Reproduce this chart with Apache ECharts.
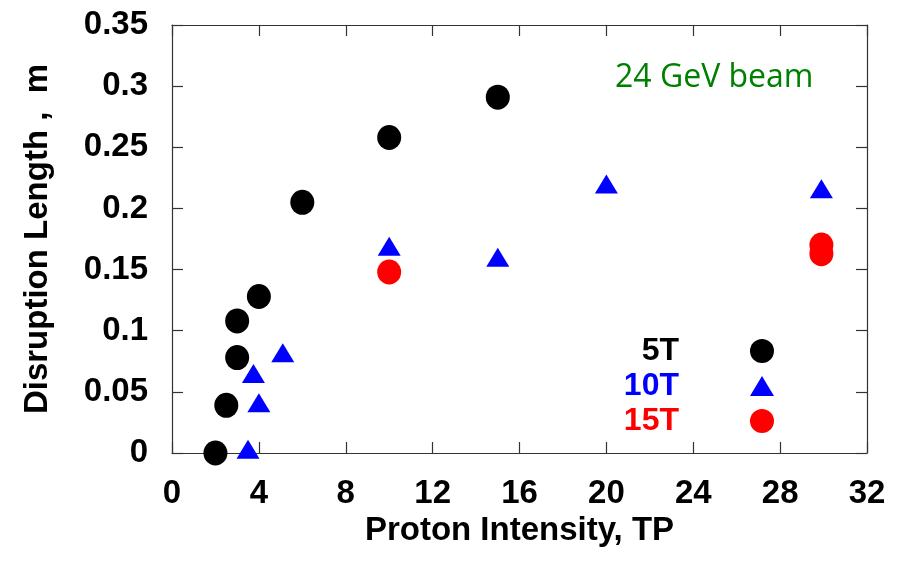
<!DOCTYPE html>
<html>
<head>
<meta charset="utf-8">
<script src="https://cdn.jsdelivr.net/npm/echarts@6/dist/echarts.min.js"></script>
<style>
  html, body { margin: 0; padding: 0; background: #fff; }
  #chart { width: 905px; height: 563px; }
</style>
</head>
<body>
<div id="chart"></div>
<script>
// ---- data ----
const seriesNames = ['5T', '10T', '15T'];
const t5X = [2.0, 2.5, 3.0, 3.0, 4.0, 6.0, 10.0, 15.0];
const t5Y = [0.0, 0.039, 0.078, 0.108, 0.128, 0.205, 0.258, 0.291];
const t10X = [3.5, 4.0, 3.75, 5.1, 10.0, 15.0, 20.0, 29.9];
const t10Y = [0.003, 0.041, 0.065, 0.082, 0.169, 0.160, 0.220, 0.216];
const t15X = [10.0, 29.9, 29.9];
const t15Y = [0.148, 0.163, 0.170];
const xTicks = { min: 0, max: 32, interval: 4 };
const yTicks = { min: 0, max: 0.35, interval: 0.05 };
const annotation = '24 GeV beam';
const xTitle = 'Proton Intensity, TP';
const yTitle = 'Disruption Length ,  m';

function pairs(xs, ys) { return xs.map((x, i) => [x, ys[i]]); }

const chart = echarts.init(document.getElementById('chart'), null, { renderer: 'canvas' });
const lineCol = '#333';
const axisFont = { fontFamily: 'Liberation Sans, Arial, sans-serif', fontWeight: 'bold', fontSize: 33, color: '#000' };
const triPath = 'path://M0,19 L11.5,0 L23,19 Z';

function baseAxis(extra) {
  return Object.assign({
    type: 'value',
    axisLine: { show: true, onZero: false, lineStyle: { color: lineCol, width: 1.2 } },
    axisTick: { show: true, inside: true, length: 11, lineStyle: { color: lineCol, width: 1.2 } },
    splitLine: { show: false }
  }, extra);
}

chart.setOption({
  animation: false,
  backgroundColor: '#fff',
  title: {
    text: annotation, left: 615, top: 62, padding: 0,
    textStyle: { fontFamily: 'Open Sans', fontWeight: 'normal', fontSize: 32, color: '#008000' }
  },
  grid: { left: 172, right: 38, top: 25, bottom: 110, show: false },
  legend: {
    orient: 'vertical', right: 131, top: 335, align: 'right', padding: 0,
    itemWidth: 24, itemHeight: 24, itemGap: 3,
    textStyle: { fontFamily: 'Liberation Sans, Arial, sans-serif', fontWeight: 'bold', fontSize: 32, lineHeight: 24, padding: [0, 66, 0, 0] },
    data: [
      { name: seriesNames[0], icon: 'circle', textStyle: { color: '#000' } },
      { name: seriesNames[1], icon: triPath, textStyle: { color: '#0000ff' } },
      { name: seriesNames[2], icon: 'circle', textStyle: { color: '#ff0000' } }
    ]
  },
  xAxis: [
    baseAxis(Object.assign({}, xTicks, {
      position: 'bottom',
      axisLabel: Object.assign({ margin: 24 }, axisFont),
      name: xTitle, nameLocation: 'middle', nameGap: 61,
      nameTextStyle: { fontFamily: 'Liberation Sans, Arial, sans-serif', fontWeight: 'bold', fontSize: 33, color: '#000' }
    })),
    baseAxis(Object.assign({}, xTicks, { position: 'top', axisLabel: { show: false } }))
  ],
  yAxis: [
    baseAxis(Object.assign({}, yTicks, {
      position: 'left',
      axisLabel: Object.assign({ margin: 24 }, axisFont),
      name: yTitle, nameLocation: 'middle', nameGap: 118,
      nameTextStyle: { fontFamily: 'Liberation Sans, Arial, sans-serif', fontWeight: 'bold', fontSize: 33, color: '#000' }
    })),
    baseAxis(Object.assign({}, yTicks, { position: 'right', axisLabel: { show: false } }))
  ],
  series: [
    { name: seriesNames[0], type: 'scatter', symbol: 'circle', symbolSize: [24, 25], itemStyle: { color: '#000', opacity: 1 }, data: pairs(t5X, t5Y), z: 3 },
    { name: seriesNames[1], type: 'scatter', symbol: 'triangle', symbolSize: [23, 19], itemStyle: { color: '#0000ff', opacity: 1 }, data: pairs(t10X, t10Y), z: 3 },
    { name: seriesNames[2], type: 'scatter', symbol: 'circle', symbolSize: [24, 25], itemStyle: { color: '#ff0000', opacity: 1 }, data: pairs(t15X, t15Y), z: 3 }
  ]
});
</script>
</body>
</html>
